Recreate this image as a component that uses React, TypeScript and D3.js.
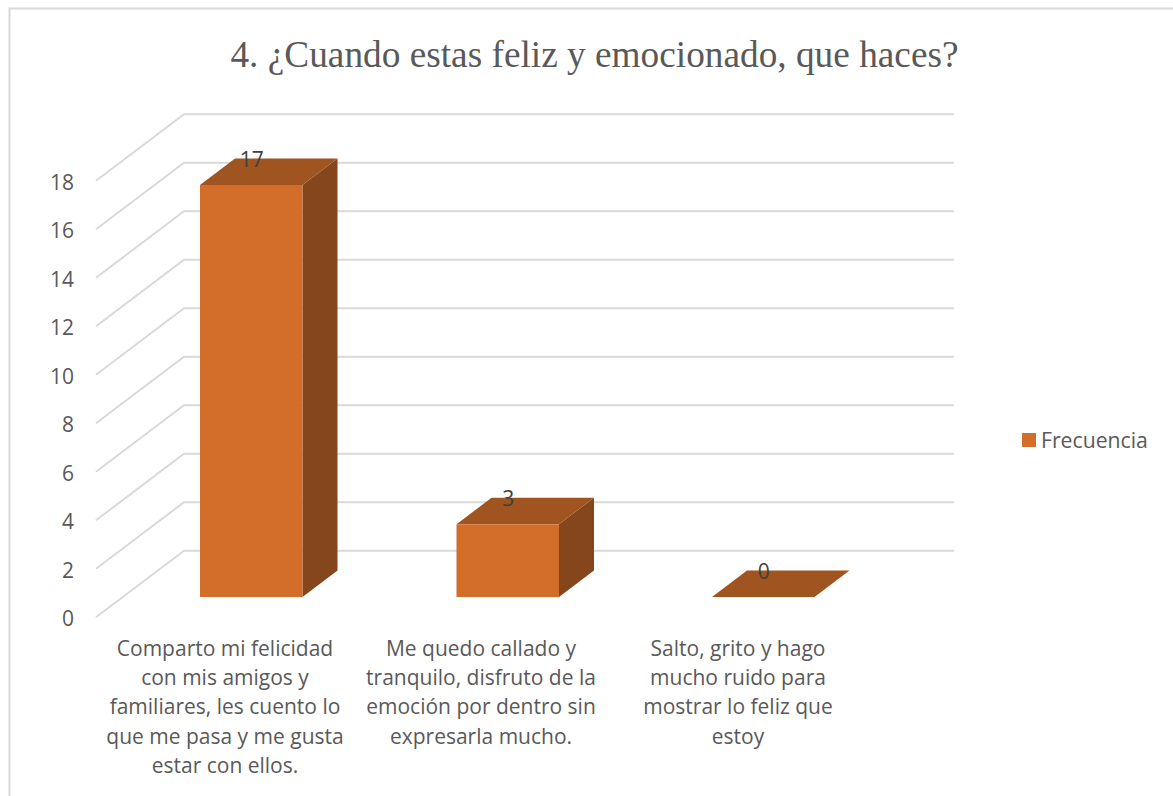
import React from "react";
import * as d3 from "d3";

const titleText = "4. ¿Cuando estas feliz y emocionado, que haces?";
const seriesName = "Frecuencia";
const categories = ["a", "b", "c"];
const categoryLines = [
  ["Comparto mi felicidad", "con mis amigos y", "familiares, les cuento lo", "que me pasa y me gusta", "estar con ellos."],
  ["Me quedo callado y", "tranquilo, disfruto de la", "emoción por dentro sin", "expresarla mucho."],
  ["Salto, grito y hago", "mucho ruido para", "mostrar lo feliz que", "estoy"],
];
const values = [17, 3, 0];
const yTicks = d3.range(0, 19, 2);

const W = 1173, H = 796;
const SANS = "'Open Sans', 'Noto Sans', sans-serif";
const GRID = "#d9d9d9";

export default function App() {
  const yFrontAxis = d3.scaleLinear().domain([0, 18]).range([617.3, 180.7]);
  const yBackWall = d3.scaleLinear().domain([0, 18]).range([550.7, 114.3]);
  const yBar = d3.scaleLinear().domain([0, 17]).range([597, 185]);
  const x = d3.scaleOrdinal<string, number>().domain(categories).range([200, 456.5, 712]);
  const barW = 102.5, dx = 35, dy = 26.5;
  const labelX = d3.scaleOrdinal<string, number>().domain(categories).range([225, 481, 738]);
  const poly = d3.line();

  return (
    <svg width={W} height={H} viewBox={`0 0 ${W} ${H}`} style={{ position: "absolute", left: 0, top: 0, background: "#fff" }}>
      <path d={`M9.5 796V8.5H${W}`} fill="none" stroke={GRID} strokeWidth={2} />
      <text x={594.5} y={67} textAnchor="middle" fontFamily="'Liberation Serif', serif" fontSize={37.3} fill="#595959">{titleText}</text>

      {yTicks.map((t) => (
        <g key={t}>
          <path d={poly([[96, yFrontAxis(t)], [184, yBackWall(t)], [954, yBackWall(t)]])!} fill="none" stroke={GRID} strokeWidth={2} />
          <text x={74} y={yFrontAxis(t) + 9} textAnchor="end" fontFamily={SANS} fontSize={21} fill="#595959">{t}</text>
        </g>
      ))}

      {categories.map((c, i) => {
        const v = values[i];
        const x0 = x(c), x1 = x0 + barW, y0 = yBar(0), y1 = yBar(v);
        return (
          <g key={c}>
            {v > 0 && <path d={poly([[x1, y1], [x1 + dx, y1 - dy], [x1 + dx, y0 - dy], [x1, y0]])! + "Z"} fill="#84461A" />}
            <path d={poly([[x0, y1], [x0 + dx, y1 - dy], [x1 + dx, y1 - dy], [x1, y1]])! + "Z"} fill="#A0541F" />
            {v > 0 && <rect x={x0} y={y1} width={barW} height={y0 - y1} fill="#D26D2A" />}
          </g>
        );
      })}

      {categories.map((c, i) => (
        <text key={c} x={x(c) + barW / 2 + 0.5} y={yBar(values[i]) - 18} textAnchor="middle" fontFamily={SANS} fontSize={21} fill="#404040">{values[i]}</text>
      ))}

      {categories.map((c, i) => (
        <text key={c} textAnchor="middle" fontFamily={SANS} fontSize={21} fill="#595959">
          {categoryLines[i].map((l, j) => (
            <tspan key={j} x={labelX(c)} y={656 + j * 29.2}>{l}</tspan>
          ))}
        </text>
      ))}

      <rect x={1022} y={433} width={14} height={14} fill="#D26D2A" />
      <text x={1041} y={447.5} fontFamily={SANS} fontSize={21.2} fill="#595959">{seriesName}</text>
    </svg>
  );
}
